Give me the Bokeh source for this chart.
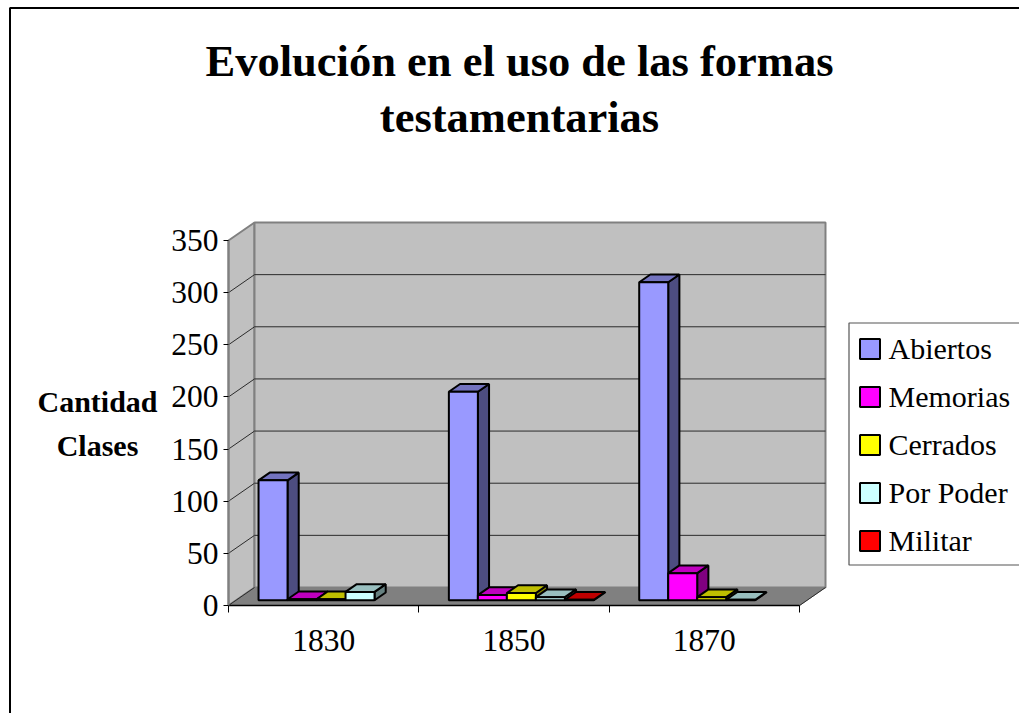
from bokeh.plotting import figure
from bokeh.models import (Range1d, LinearAxis, FixedTicker, Legend, LegendItem, Label, BoxAnnotation)
from bokeh.embed import file_html
from bokeh.resources import INLINE

categories = ["1830", "1850", "1870"]
series_names = ["Abiertos", "Memorias", "Cerrados", "Por Poder", "Militar"]
abiertos = [115, 200, 305]
memorias = [1, 5, 26]
cerrados = [1, 7, 3]
por_poder = [8, 3, 0.5]
militar = [0, 0.5, 0]
y_ticks = [0, 50, 100, 150, 200, 250, 300, 350]
front_colors = ["#9999FF", "#FF00FF", "#FFFF00", "#CCFFFF", "#FF0000"]
side_colors = ["#4D4D80", "#800080", "#808000", "#668080", "#800000"]
top_colors = ["#7373BF", "#BF00BF", "#BFBF00", "#99BFBF", "#BF0000"]
all_values = [abiertos, memorias, cerrados, por_poder, militar]

FONT = "Liberation Serif"
W, H = 1019, 713
PX_X = (799 - 228) / 3.0     # px per category
PX_Y = (605 - 240) / 350.0   # px per unit of value
ORIGIN_X, ORIGIN_Y = 228, 605

x0 = -ORIGIN_X / PX_X
x1 = (W - ORIGIN_X) / PX_X
y0 = -(H - ORIGIN_Y) / PX_Y
y1 = ORIGIN_Y / PX_Y

p = figure(width=W, height=H, output_backend="svg", toolbar_location=None,
           x_range=Range1d(x0, x1), y_range=Range1d(y0, y1),
           x_axis_type=None, y_axis_type=None, min_border=0,
           min_border_left=0, min_border_right=0, min_border_bottom=0,
           outline_line_color=None, background_fill_color="white")
p.grid.visible = False

DX = 26 / PX_X   # depth shift of the whole floor
DY = 18 / PX_Y


def proj(x, y, d):
    return x + d * DX, y + d * DY


def quad(*pts):
    return [pt[0] for pt in pts], [pt[1] for pt in pts]


# walls and floor
xs, ys = quad(proj(0, 0, 0), proj(0, 0, 1), proj(0, 350, 1), proj(0, 350, 0))
p.patch(xs, ys, fill_color="#C0C0C0", line_color="#808080", line_width=2)
xs, ys = quad(proj(0, 0, 1), proj(3, 0, 1), proj(3, 350, 1), proj(0, 350, 1))
p.patch(xs, ys, fill_color="#C0C0C0", line_color="#808080", line_width=2)
xs, ys = quad(proj(0, 0, 0), proj(3, 0, 0), proj(3, 0, 1), proj(0, 0, 1))
p.patch(xs, ys, fill_color="#808080", line_color="#808080", line_width=1)

# gridlines
gx, gy = [], []
for t in y_ticks[1:-1]:
    a, b, c = proj(0, t, 0), proj(0, t, 1), proj(3, t, 1)
    gx.append([a[0], b[0], c[0]])
    gy.append([a[1], b[1], c[1]])
a, b = proj(3, 0, 0), proj(3, 0, 1)
gx.append([a[0], b[0]])
gy.append([a[1], b[1]])
a, b = proj(0, 0, 0), proj(0, 0, 1)
gx.append([a[0], b[0]])
gy.append([a[1], b[1]])
p.multi_line(gx, gy, line_color="#2b2b2b", line_width=1)

# bars
BAR_W = 29 / PX_X
GAP = 22.5 / PX_X
D0, D1 = 0.29, 0.72
items = []
for i, (name, vals) in enumerate(zip(series_names, all_values)):
    fx, fy, sx, sy, tx, ty = [], [], [], [], [], []
    for c, v in enumerate(vals):
        if v <= 0:
            continue
        l = c + GAP + i * BAR_W
        r = l + BAR_W
        q = quad(proj(l, 0, D0), proj(r, 0, D0), proj(r, v, D0), proj(l, v, D0))
        fx.append(q[0]); fy.append(q[1])
        q = quad(proj(r, 0, D0), proj(r, 0, D1), proj(r, v, D1), proj(r, v, D0))
        sx.append(q[0]); sy.append(q[1])
        q = quad(proj(l, v, D0), proj(r, v, D0), proj(r, v, D1), proj(l, v, D1))
        tx.append(q[0]); ty.append(q[1])
    p.patches(sx, sy, fill_color=side_colors[i], line_color="black", line_width=2)
    p.patches(tx, ty, fill_color=top_colors[i], line_color="black", line_width=2)
    front = p.patches(fx, fy, fill_color=front_colors[i], line_color="black", line_width=2)
    items.append(LegendItem(label=name, renderers=[front]))

# axes
yaxis = LinearAxis(fixed_location=0, bounds=(0, 350),
                   ticker=FixedTicker(ticks=y_ticks),
                   axis_line_color="#808080", axis_line_width=2,
                   major_tick_in=0, major_tick_out=5, major_tick_line_color="black",
                   minor_tick_line_color=None,
                   major_label_standoff=5,
                   major_label_text_font=FONT, major_label_text_font_size="31.5px",
                   major_label_text_color="black")
p.add_layout(yaxis, "left")

centers = [c + 0.5 for c in range(len(categories))]
xaxis = LinearAxis(fixed_location=0, bounds=(0, 3),
                   ticker=FixedTicker(ticks=centers, minor_ticks=list(range(len(categories) + 1))),
                   major_label_overrides={m: c for m, c in zip(centers, categories)},
                   axis_line_color="black", axis_line_width=1.5,
                   major_tick_in=0, major_tick_out=0,
                   minor_tick_in=0, minor_tick_out=7, minor_tick_line_color="black",
                   major_label_standoff=17,
                   major_label_text_font=FONT, major_label_text_font_size="31.5px",
                   major_label_text_color="black")
p.add_layout(xaxis, "below")

# y axis label
p.add_layout(Label(text="Cantidad\nClases",
                   x=97, y=H - 423, x_units="screen", y_units="screen",
                   text_align="center", text_baseline="middle",
                   text_font=FONT, text_font_size="30px", text_font_style="bold",
                   text_color="black", text_line_height=1.31))

# title
p.add_layout(Label(text="Evolución en el uso de las formas\ntestamentarias",
                   x=519, y=H - 88, x_units="screen", y_units="screen",
                   text_align="center", text_baseline="middle",
                   text_font=FONT, text_font_size="44.5px", text_font_style="bold",
                   text_color="black", text_line_height=1.12))

# legend frame and legend
p.add_layout(BoxAnnotation(left=848.5, right=1100, top=H - 322.5, bottom=H - 564.5,
                           left_units="screen", right_units="screen",
                           top_units="screen", bottom_units="screen",
                           fill_color="white", fill_alpha=1,
                           line_color="#555555", line_alpha=1, line_width=1.2))
legend = Legend(items=items, location=(856.5, 155.5), orientation="vertical",
                margin=0, padding=8, spacing=14,
                glyph_width=25, glyph_height=25, label_standoff=7,
                label_text_font=FONT, label_text_font_size="30px", label_text_color="black",
                border_line_color=None, background_fill_alpha=0)
p.add_layout(legend, "center")

# outer chart border
p.add_layout(BoxAnnotation(left=9.5, right=1100, top=H - 7.5, bottom=-100,
                           left_units="screen", right_units="screen",
                           top_units="screen", bottom_units="screen",
                           fill_alpha=0, line_color="black", line_alpha=1,
                           line_width=2, level="overlay"))

open("out.html", "w").write(file_html(p, INLINE))
